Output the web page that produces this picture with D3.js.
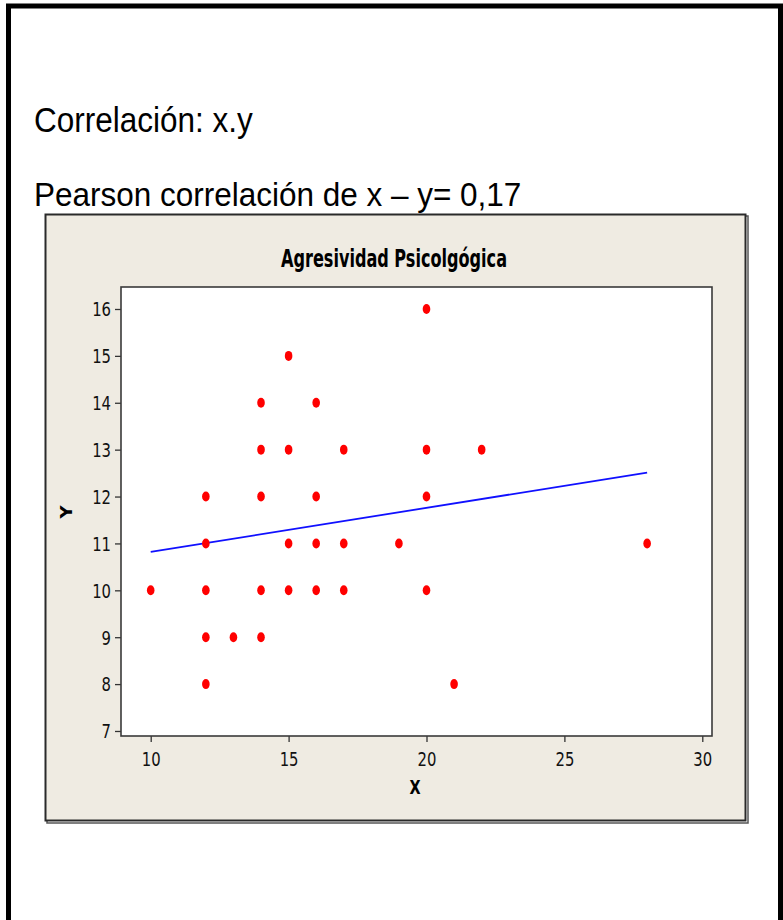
<!DOCTYPE html>
<html>
<head>
<meta charset="utf-8">
<script src="https://cdn.jsdelivr.net/npm/d3@7"></script>
<style>
  html, body { margin: 0; padding: 0; background: #fff; }
  svg { display: block; }
</style>
</head>
<body>
<div id="chart"></div>
<script>
// data
const xValues = [10, 12, 12, 12, 12, 12, 13, 14, 14, 14, 14, 14, 15, 15, 15, 15,
                 16, 16, 16, 16, 17, 17, 17, 19, 20, 20, 20, 20, 21, 22, 28];
const yValues = [10, 12, 11, 10, 9, 8, 9, 14, 13, 12, 10, 9, 15, 13, 11, 10,
                 14, 12, 11, 10, 13, 11, 10, 11, 16, 13, 12, 10, 8, 13, 11];
// fitted line ends (x, y)
const fitX = [10, 28];
const fitY = [10.82, 12.51];
const xTicks = [10, 15, 20, 25, 30];
const yTicks = [7, 8, 9, 10, 11, 12, 13, 14, 15, 16];

const headerLines = ["Correlación: x.y", "Pearson correlación de x – y= 0,17"];
const chartTitle = "Agresividad Psicolgógica";
const xLabel = "X";
const yLabel = "Y";

const W = 783, H = 920;
const plot = {left: 121, top: 287, right: 712, bottom: 736};
const cond = "'DejaVu Sans Condensed', 'DejaVu Sans', sans-serif";

const svg = d3.select("#chart").append("svg")
  .attr("width", W)
  .attr("height", H);

// outer black frame (runs off the bottom)
svg.append("rect")
  .attr("x", 8.5).attr("y", 6)
  .attr("width", 772).attr("height", 1000)
  .attr("fill", "none")
  .attr("stroke", "#000")
  .attr("stroke-width", 5);

// header text, slightly stretched tall like the original
function stretched(x, y, txt, size, sy) {
  return svg.append("text")
    .attr("transform", "translate(" + x + "," + y + ") scale(1," + sy + ")")
    .attr("font-family", "'Liberation Sans', Arial, sans-serif")
    .attr("font-size", size)
    .attr("fill", "#000")
    .text(txt);
}
stretched(34, 132, headerLines[0], 31.5, 1.1);
stretched(34, 206, headerLines[1], 31.5, 1.06);

// grey panel
svg.append("rect")
  .attr("x", 47).attr("y", 216)
  .attr("width", 701).attr("height", 607)
  .attr("fill", "none")
  .attr("stroke", "#555")
  .attr("stroke-width", 1.5);
svg.append("rect")
  .attr("x", 45.5).attr("y", 214.5)
  .attr("width", 700).attr("height", 606)
  .attr("fill", "#efebe2")
  .attr("stroke", "#2a2a2a")
  .attr("stroke-width", 2);

// plot area
svg.append("rect")
  .attr("x", plot.left).attr("y", plot.top)
  .attr("width", plot.right - plot.left)
  .attr("height", plot.bottom - plot.top)
  .attr("fill", "#fff");

const x = d3.scaleLinear()
  .domain([8.923, 30.352])
  .range([plot.left, plot.right]);

const y = d3.scaleLinear()
  .domain([6.893, 16.469])
  .range([plot.bottom, plot.top]);

// title
svg.append("text")
  .attr("transform", "translate(394,267) scale(1,1.3)")
  .attr("text-anchor", "middle")
  .attr("font-family", cond)
  .attr("font-weight", "bold")
  .attr("font-size", 19)
  .attr("textLength", 226)
  .attr("lengthAdjust", "spacingAndGlyphs")
  .attr("fill", "#000")
  .text(chartTitle);

// axes
const gx = svg.append("g")
  .attr("transform", "translate(0," + plot.bottom + ")")
  .call(d3.axisBottom(x).tickValues(xTicks).tickSize(6).tickSizeOuter(0));
gx.select(".domain").remove();
gx.selectAll(".tick line").attr("stroke", "#333").attr("stroke-width", 1.3);
gx.selectAll(".tick text")
  .attr("y", 26).attr("dy", 0)
  .attr("transform", "scale(1,1.15)")
  .attr("font-family", cond)
  .attr("font-size", 16.5)
  .attr("fill", "#111");

const gy = svg.append("g")
  .attr("transform", "translate(" + plot.left + ",0)")
  .call(d3.axisLeft(y).tickValues(yTicks).tickSize(6).tickPadding(4).tickSizeOuter(0));
gy.select(".domain").remove();
gy.selectAll(".tick line").attr("stroke", "#333").attr("stroke-width", 1.3);
gy.selectAll(".tick text")
  .attr("dy", "0.36em")
  .attr("transform", "scale(1,1.15)")
  .attr("font-family", cond)
  .attr("font-size", 16.5)
  .attr("fill", "#111");

// plot border
svg.append("rect")
  .attr("x", plot.left).attr("y", plot.top)
  .attr("width", plot.right - plot.left)
  .attr("height", plot.bottom - plot.top)
  .attr("fill", "none")
  .attr("stroke", "#3a3a3a")
  .attr("stroke-width", 1.6);

// axis titles
svg.append("text")
  .attr("transform", "translate(415,794) scale(1,1.25)")
  .attr("text-anchor", "middle")
  .attr("font-family", cond)
  .attr("font-weight", "bold")
  .attr("font-size", 16)
  .attr("fill", "#000")
  .text(xLabel);

svg.append("text")
  .attr("transform", "translate(72,512) rotate(-90) scale(1.25,1)")
  .attr("text-anchor", "middle")
  .attr("font-family", cond)
  .attr("font-weight", "bold")
  .attr("font-size", 16)
  .attr("fill", "#000")
  .text(yLabel);

// fitted line
svg.append("line")
  .attr("x1", x(fitX[0])).attr("y1", y(fitY[0]))
  .attr("x2", x(fitX[1])).attr("y2", y(fitY[1]))
  .attr("stroke", "#1010ff")
  .attr("stroke-width", 1.8);

// points
svg.selectAll(".pt")
  .data(xValues)
  .enter().append("ellipse")
    .attr("class", "pt")
    .attr("cx", d => x(d))
    .attr("cy", (d, i) => y(yValues[i]))
    .attr("rx", 3.8)
    .attr("ry", 5)
    .attr("fill", "#ff0000");
</script>
</body>
</html>
